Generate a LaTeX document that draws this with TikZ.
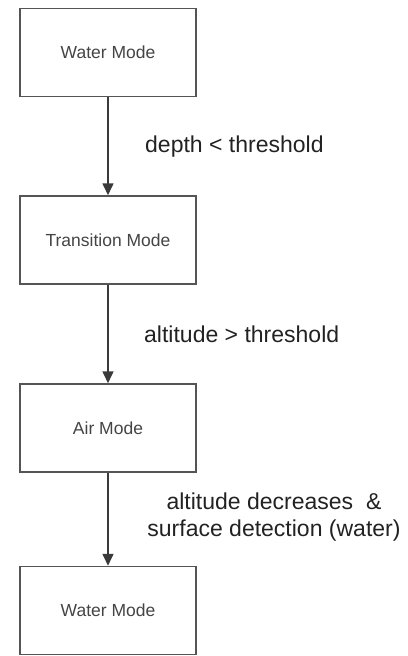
\documentclass[tikz,border=0pt]{standalone}
\usepackage{fontspec}
\setmainfont{Liberation Sans}
\usetikzlibrary{arrows.meta}
\definecolor{boxgray}{HTML}{555555}
\definecolor{linegray}{HTML}{3A3A3A}
\definecolor{textgray}{HTML}{444444}
\definecolor{labelgray}{HTML}{222222}
\begin{document}
\begin{tikzpicture}[x=1pt,y=1pt,
  modebox/.style={draw=boxgray, line width=1.5pt, minimum width=176pt, minimum height=88pt, inner sep=0pt, font=\fontsize{17.5}{21}\selectfont, text=textgray},
  flow/.style={draw=linegray, line width=1.6pt, -{Triangle[length=12pt,width=11pt]}},
  cond/.style={font=\fontsize{23}{27}\selectfont, text=labelgray, inner sep=0pt}]
\useasboundingbox (0,0) rectangle (407,-656);
\node[modebox] (w1) at (108,-52.5) {Water Mode};
\node[modebox] (tr) at (108,-240) {Transition Mode};
\node[modebox] (air) at (108,-428) {Air Mode};
\node[modebox] (w2) at (108,-610.5) {Water Mode};
\draw[flow] (w1.south) -- (tr.north);
\draw[flow] (tr.south) -- (air.north);
\draw[flow] (air.south) -- (w2.north);
\node[cond, anchor=west] (c1) at (145,-147) {depth < threshold};
\node[cond, anchor=west] (c2) at (144,-334) {altitude > threshold};
\node[cond, align=center] (c3) at (274,-517) {altitude decreases\ \ \&\\surface detection (water)};
\end{tikzpicture}
\end{document}
